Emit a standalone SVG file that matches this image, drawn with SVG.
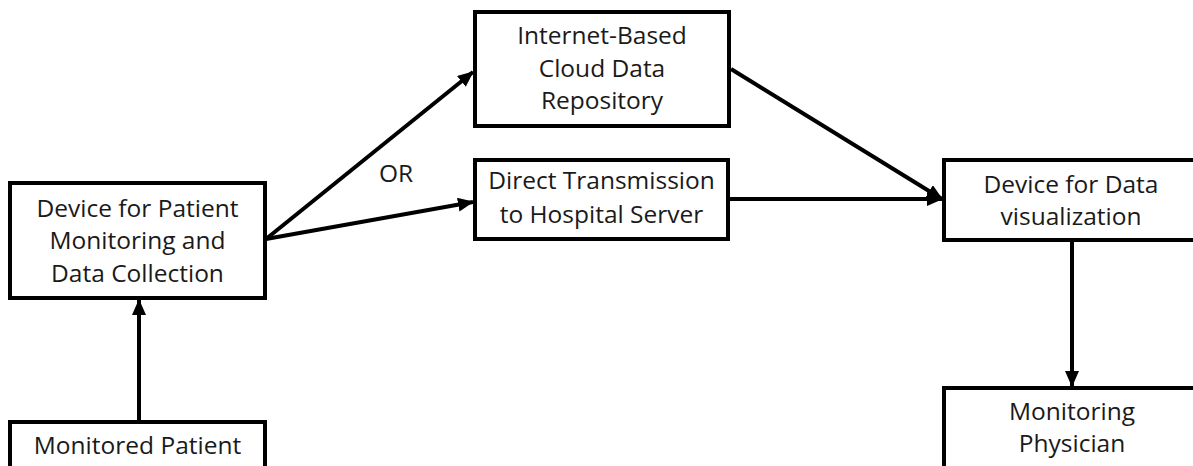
<svg xmlns="http://www.w3.org/2000/svg" width="1193" height="466" viewBox="0 0 1193 466">
<defs>
<marker id="ah" markerUnits="userSpaceOnUse" markerWidth="16" markerHeight="14" refX="15" refY="7" orient="auto">
<path d="M0,0 L16,7 L0,14 z" fill="#000"/>
</marker>
<style>
.box{fill:#fff;stroke:#000;stroke-width:4}
.t{font-family:"Open Sans","Liberation Sans",sans-serif;font-size:24.5px;fill:#1a1a1a;text-anchor:middle}
.c{stroke:#000;stroke-width:4;fill:none;marker-end:url(#ah)}
</style>
</defs>
<rect width="1193" height="466" fill="#fff"/>
<g id="connectors">
<line class="c" x1="139" y1="422" x2="139" y2="300"/>
<line class="c" x1="266" y1="239" x2="473" y2="72"/>
<line class="c" x1="266" y1="239" x2="473" y2="202"/>
<line class="c" x1="731" y1="69" x2="942" y2="199"/>
<line class="c" x1="729" y1="199" x2="942" y2="199"/>
<line class="c" x1="1072" y1="241" x2="1072" y2="386"/>
</g>
<g id="or-label"><text class="t" x="396" y="182">OR</text></g>
<g id="patient-device">
<rect class="box" x="10" y="183" width="255" height="115"/>
<text class="t" x="137.5" y="217">Device for Patient</text>
<text class="t" x="137.5" y="249">Monitoring and</text>
<text class="t" x="137.5" y="282">Data Collection</text>
</g>
<g id="cloud">
<rect class="box" x="475" y="12" width="254" height="114"/>
<text class="t" x="602" y="44">Internet-Based</text>
<text class="t" x="602" y="77">Cloud Data</text>
<text class="t" x="602" y="109">Repository</text>
</g>
<g id="direct">
<rect class="box" x="475" y="160" width="253" height="79"/>
<text class="t" x="601.5" y="189">Direct Transmission</text>
<text class="t" x="601.5" y="223">to Hospital Server</text>
</g>
<g id="visualization">
<rect class="box" x="944" y="160" width="254" height="80"/>
<text class="t" x="1071" y="193">Device for Data</text>
<text class="t" x="1071" y="225">visualization</text>
</g>
<g id="physician">
<rect class="box" x="944" y="388" width="254" height="90"/>
<text class="t" x="1072" y="420">Monitoring</text>
<text class="t" x="1072" y="452">Physician</text>
</g>
<g id="patient">
<rect class="box" x="10" y="422" width="255" height="60"/>
<text class="t" x="137.5" y="454">Monitored Patient</text>
</g>
</svg>
